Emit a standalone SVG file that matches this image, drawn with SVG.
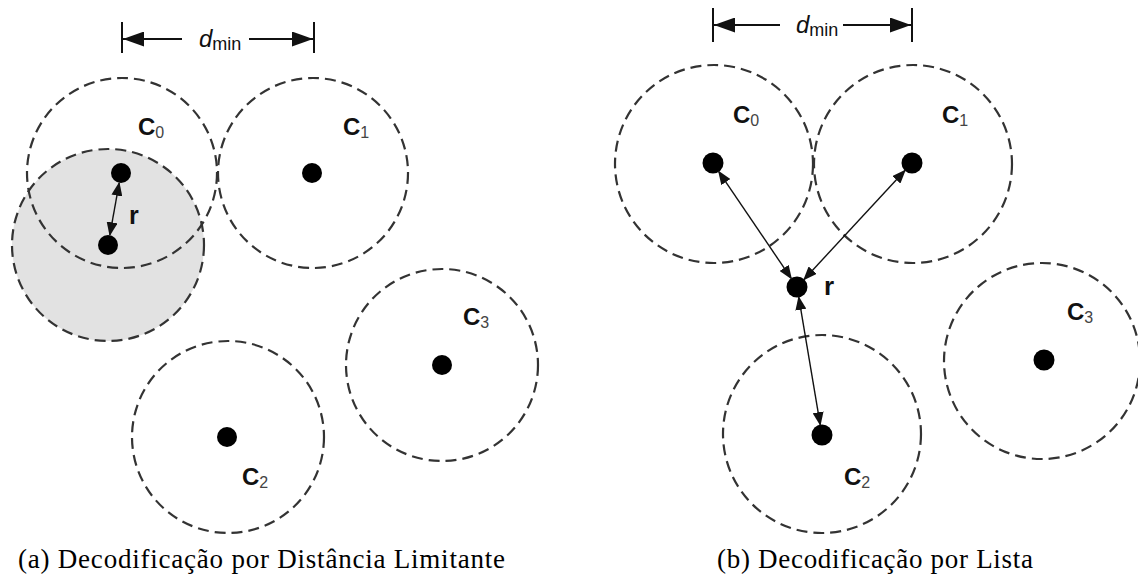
<svg xmlns="http://www.w3.org/2000/svg" width="1138" height="582" viewBox="0 0 1138 582">
<style>
.ring{fill:none;stroke:#333;stroke-width:2.2;stroke-dasharray:11 6}
.dot{fill:#000}
.lbl{font-family:"Liberation Sans",Arial,sans-serif;font-weight:bold;font-size:24px;fill:#111}
.sub{font-weight:normal;font-size:16px;fill:#444}
.dm{font-family:"Liberation Sans",Arial,sans-serif;font-size:24px;fill:#111}
.dms{font-size:18px;font-style:normal}
.cap{font-family:"Liberation Serif","Times New Roman",serif;font-size:27px;fill:#000}
.link{stroke:#111;stroke-width:1.4;fill:none;marker-start:url(#ah);marker-end:url(#ah)}
.dim{stroke:#111;stroke-width:2;fill:none}
</style>
<defs>
<marker id="ah" viewBox="0 0 14 11" refX="13" refY="5.5" markerWidth="14" markerHeight="11" markerUnits="userSpaceOnUse" orient="auto-start-reverse"><path d="M0,0 L14,5.5 L0,11 z" fill="#111"/></marker>
<marker id="dh" viewBox="0 0 21 15" refX="21" refY="7.5" markerWidth="21" markerHeight="15" markerUnits="userSpaceOnUse" orient="auto"><path d="M0,0 L21,7.5 L0,15 z" fill="#111"/></marker>
</defs>

<!-- (a) panel -->
<g id="a-shade"><circle cx="108" cy="245" r="96" fill="#e2e2e2" stroke="none"/></g>
<g id="a-c0"><circle class="ring" cx="122" cy="173" r="95"/><circle class="dot" cx="121" cy="173" r="10"/><text class="lbl" x="138" y="135">C<tspan class="sub" dy="3">0</tspan></text></g>
<g id="a-r"><circle class="ring" cx="108" cy="245" r="96"/><circle class="dot" cx="108" cy="245" r="10"/><text class="lbl" x="129" y="224" style="font-size:25px">r</text></g>
<g id="a-c1"><circle class="ring" cx="313" cy="173" r="95"/><circle class="dot" cx="312" cy="173" r="10"/><text class="lbl" x="343" y="135">C<tspan class="sub" dy="3">1</tspan></text></g>
<g id="a-c2"><circle class="ring" cx="228" cy="437" r="96"/><circle class="dot" cx="227" cy="437" r="10"/><text class="lbl" x="242" y="485">C<tspan class="sub" dy="3">2</tspan></text></g>
<g id="a-c3"><circle class="ring" cx="442" cy="365" r="96"/><circle class="dot" cx="442" cy="365" r="10"/><text class="lbl" x="463" y="325">C<tspan class="sub" dy="3">3</tspan></text></g>
<g id="a-dmin">
<line class="dim" x1="122" y1="22" x2="122" y2="53"/>
<line class="dim" x1="314" y1="22" x2="314" y2="53"/>
<text class="dm" x="199" y="47"><tspan font-style="italic">d</tspan><tspan class="dms" dy="3">min</tspan></text>
</g>

<!-- (b) panel -->
<g id="b-c0"><circle class="ring" cx="714" cy="164" r="99"/><circle class="dot" cx="713" cy="163" r="10.5"/><text class="lbl" x="733" y="123">C<tspan class="sub" dy="3">0</tspan></text></g>
<g id="b-c1"><circle class="ring" cx="913" cy="164" r="99"/><circle class="dot" cx="912" cy="163" r="10.5"/><text class="lbl" x="942" y="123">C<tspan class="sub" dy="3">1</tspan></text></g>
<g id="b-r"><circle class="dot" cx="797" cy="287" r="10.5"/><text class="lbl" x="824" y="295" style="font-size:26px">r</text></g>
<g id="b-c2"><circle class="ring" cx="822" cy="434" r="99"/><circle class="dot" cx="822" cy="435" r="10.5"/><text class="lbl" x="844" y="485">C<tspan class="sub" dy="3">2</tspan></text></g>
<g id="b-c3"><circle class="ring" cx="1042" cy="361" r="98"/><circle class="dot" cx="1044" cy="360" r="10.5"/><text class="lbl" x="1067" y="320">C<tspan class="sub" dy="3">3</tspan></text></g>
<g id="b-dmin">
<line class="dim" x1="713" y1="8" x2="713" y2="42"/>
<line class="dim" x1="912" y1="8" x2="912" y2="42"/>
<text class="dm" x="796" y="33"><tspan font-style="italic">d</tspan><tspan class="dms" dy="3">min</tspan></text>
</g>

<g id="connectors">
<line class="link" x1="119.2" y1="182.8" x2="109.8" y2="235.2"/>
<line class="link" x1="791.4" y1="278.7" x2="718.6" y2="171.3"/>
<line class="link" x1="803.8" y1="279.7" x2="905.2" y2="170.3"/>
<line class="link" x1="798.7" y1="296.9" x2="820.3" y2="425.1"/>
<line class="dim" x1="182" y1="39" x2="123" y2="39" marker-end="url(#dh)"/>
<line class="dim" x1="249" y1="39" x2="313" y2="39" marker-end="url(#dh)"/>
<line class="dim" x1="780" y1="25" x2="714" y2="25" marker-end="url(#dh)"/>
<line class="dim" x1="843" y1="25" x2="911" y2="25" marker-end="url(#dh)"/>
</g>

<g id="captions">
<text class="cap" x="18" y="568" textLength="487" lengthAdjust="spacing">(a) Decodificação por Distância Limitante</text>
<text class="cap" x="717" y="568" textLength="316" lengthAdjust="spacing">(b) Decodificação por Lista</text>
</g>
</svg>
